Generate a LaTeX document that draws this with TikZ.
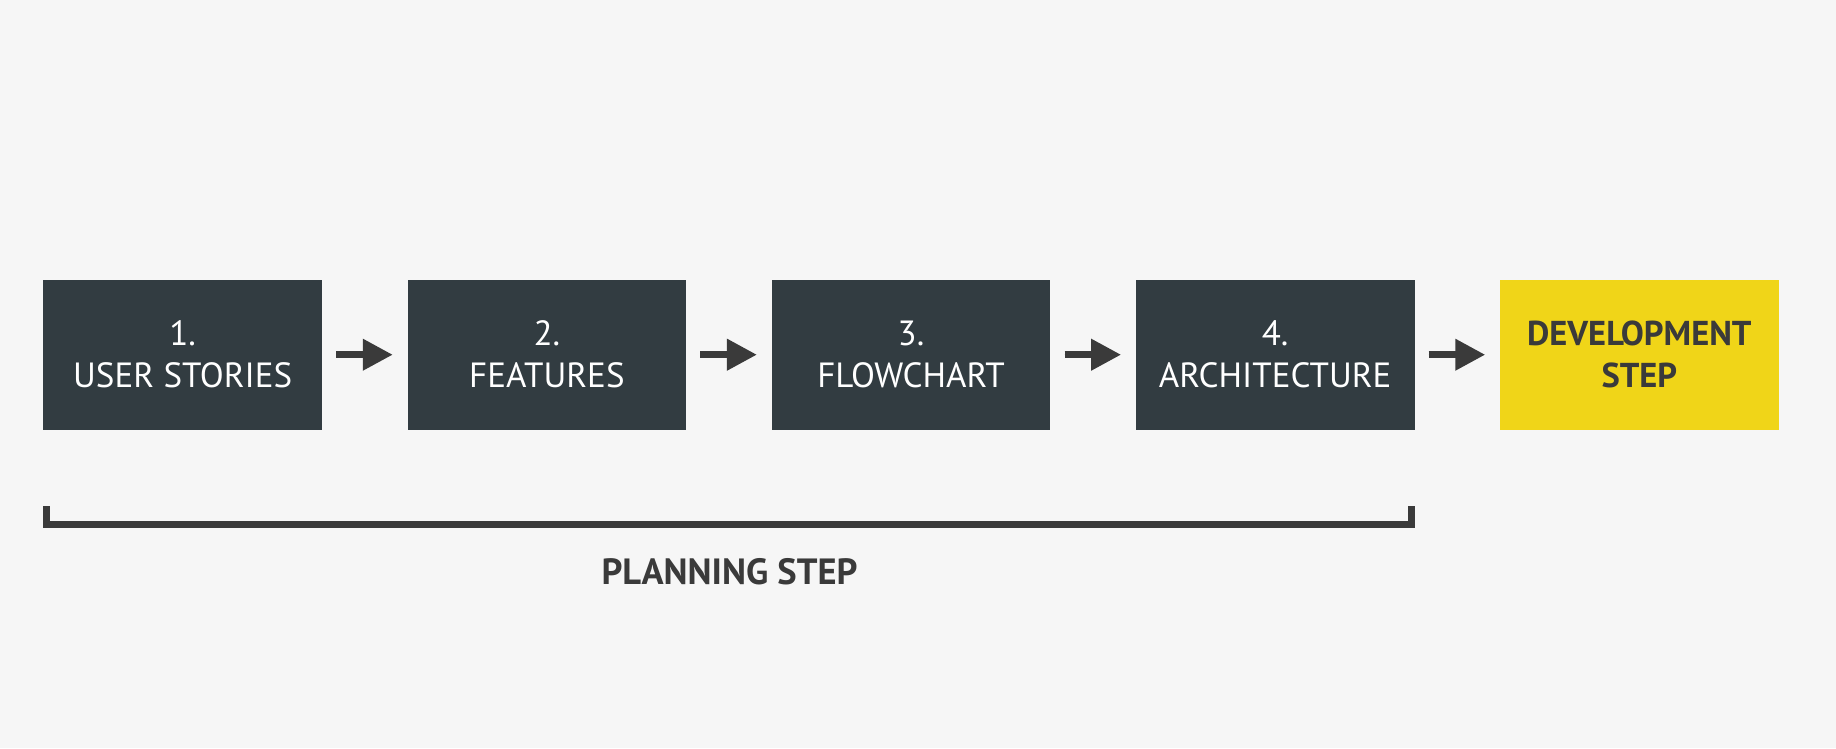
\documentclass[tikz,border=0pt]{standalone}
\usepackage{fontspec}
\setmainfont{PT Sans}
\usetikzlibrary{arrows.meta,calc}
\definecolor{bgc}{HTML}{F6F6F6}
\definecolor{boxc}{HTML}{323C41}
\definecolor{yel}{HTML}{F0D518}
\definecolor{ink}{HTML}{3A3A3A}
\tikzset{
  stepbox/.style={fill=boxc, text=white, minimum width=278.7pt, minimum height=150pt, inner sep=0pt, align=center, font=\fontsize{35}{42}\selectfont},
  devbox/.style={stepbox, fill=yel, text=ink, font=\fontsize{34.5}{42}\selectfont\bfseries},
  arr/.style={draw=ink, line width=7pt, shorten <=14pt, shorten >=14.5pt, -{Triangle[length=30pt,width=30pt]}, fill=ink},
  bracket/.style={draw=ink, line width=7pt, line join=miter, line cap=butt},
  lbl/.style={text=ink, font=\fontsize{36.5}{42}\selectfont\bfseries, inner sep=0pt}
}
\begin{document}
\begin{tikzpicture}[x=1pt,y=1pt]
\fill[bgc] (0,0) rectangle (1836,-748);
\useasboundingbox (0,0) rectangle (1836,-748);
\node[stepbox] (b1) at (182.65,-354.7) {1.\\USER STORIES};
\node[stepbox] (b2) at (546.85,-354.7) {2.\\FEATURES};
\node[stepbox] (b3) at (911.0,-354.7) {3.\\FLOWCHART};
\node[stepbox] (b4) at (1275.15,-354.7) {4.\\ARCHITECTURE};
\node[devbox] (b5) at (1639.3,-354.7) {DEVELOPMENT\\STEP};
\draw[arr] (b1.east) -- (b2.west);
\draw[arr] (b2.east) -- (b3.west);
\draw[arr] (b3.east) -- (b4.west);
\draw[arr] (b4.east) -- (b5.west);
\coordinate (bkL) at ($(b1.south west)+(3.5,-76.2)$);
\coordinate (bkR) at ($(b4.south east)+(-3.5,-76.2)$);
\draw[bracket] (bkL) -- ++(0,-18.6) -| (bkR);
\node[lbl] (plan) at (729.5,-571.5) {PLANNING STEP};
\end{tikzpicture}
\end{document}
